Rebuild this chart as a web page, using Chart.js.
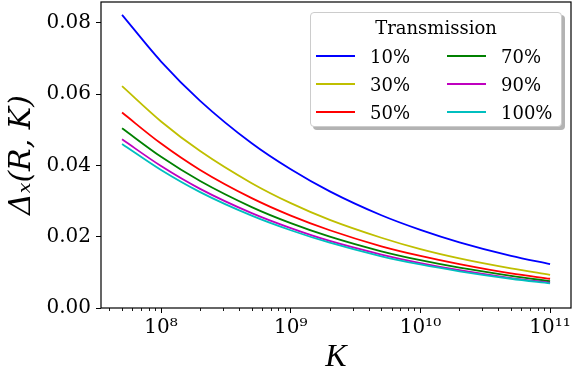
<!DOCTYPE html>
<html>
<head>
<meta charset="utf-8">
<script src="https://cdn.jsdelivr.net/npm/chart.js@4.4.0/dist/chart.umd.min.js"></script>
<style>
    body { margin: 0; background: #fff; }
    #wrap { position: relative; width: 576px; height: 381px; }
    #legend {
        position: absolute; left: 310px; top: 12px; width: 252px; height: 115px;
        box-sizing: border-box; border: 1px solid #cccccc; border-radius: 4px;
        background: #fff; box-shadow: 3px 3px 0 #b3b3b3;
        font-family: "DejaVu Serif"; font-size: 18px; color: #000;
    }
    #legend .title { height: 28px; line-height: 28px; margin-top: 1px; text-align: center; }
    #legend .items {
        display: grid; grid-template-columns: 131px 115px; grid-template-rows: 28px 28px 28px;
        grid-auto-flow: column; padding-left: 5px;
    }
    #legend .item { display: flex; align-items: center; }
    #legend .swatch { width: 39px; height: 2px; margin-right: 15px; }
</style>
</head>
<body>
<div id="wrap">
    <canvas id="myChart"></canvas>
    <div id="legend"></div>
</div>
<script>
    // K values (x) and Delta_x(R, K), one list per transmission
    var kValues = [5e7, 1e8, 2e8, 5e8, 1e9, 2e9, 5e9, 1e10, 2e10, 5e10, 1e11]
    var t10  = [0.0822, 0.0691, 0.0581, 0.0462, 0.0389, 0.0327, 0.0260, 0.0219, 0.0184, 0.0146, 0.0123]
    var t30  = [0.0622, 0.0523, 0.0440, 0.0350, 0.0294, 0.0247, 0.0197, 0.0165, 0.0139, 0.0111, 0.0093]
    var t50  = [0.0548, 0.0461, 0.0387, 0.0308, 0.0259, 0.0218, 0.0173, 0.0146, 0.0123, 0.0097, 0.0082]
    var t70  = [0.0504, 0.0424, 0.0356, 0.0283, 0.0238, 0.0200, 0.0159, 0.0134, 0.0113, 0.0090, 0.0075]
    var t90  = [0.0473, 0.0398, 0.0334, 0.0266, 0.0224, 0.0188, 0.0150, 0.0126, 0.0106, 0.0084, 0.0071]
    var t100 = [0.0460, 0.0387, 0.0325, 0.0259, 0.0218, 0.0183, 0.0145, 0.0122, 0.0103, 0.0082, 0.0069]

    var seriesNames = ["10%", "30%", "50%", "70%", "90%", "100%"]
    var seriesValues = [t10, t30, t50, t70, t90, t100]
    var colors = ["#0000ff", "#bfbf00", "#ff0000", "#008000", "#bf00bf", "#00bfbf"]

    var yTicks = [0, 0.02, 0.04, 0.06, 0.08]
    var xMajor = [1e8, 1e9, 1e10, 1e11]
    var xMajorLabels = ["10\u2078", "10\u2079", "10\u00b9\u2070", "10\u00b9\u00b9"]

    var xMin = 3.44e7, xMax = 1.45e11
    var yMax = 0.0858

    var xMinor = []
    for (var e = 7; e <= 11; e++) {
        for (var m = 2; m <= 9; m++) {
            var v = m * Math.pow(10, e)
            if (v > xMin && v < xMax) xMinor.push(v)
        }
    }

    var datasets = seriesNames.map(function (name, i) {
        return {
            label: name,
            data: kValues.map(function (k, j) { return { x: k, y: seriesValues[i][j] } }),
            borderColor: colors[i],
            backgroundColor: colors[i],
            borderWidth: 1.8,
            pointRadius: 0,
            cubicInterpolationMode: "monotone",
            fill: false,
            order: seriesNames.length - i
        }
    })

    // frame on all four sides plus the small log ticks
    var framePlugin = {
        id: "frame",
        afterDraw: function (chart) {
            var ctx = chart.ctx
            var a = chart.chartArea
            var xs = chart.scales.x
            ctx.save()
            ctx.strokeStyle = "#000"
            ctx.lineWidth = 1.2
            ctx.strokeRect(a.left, a.top, a.right - a.left, a.bottom - a.top)
            ctx.lineWidth = 0.9
            ctx.beginPath()
            xMinor.forEach(function (v) {
                var px = Math.round(xs.getPixelForValue(v)) + 0.5
                ctx.moveTo(px, a.bottom)
                ctx.lineTo(px, a.bottom + 3)
            })
            ctx.stroke()
            ctx.restore()
        }
    }

    new Chart(document.getElementById("myChart").getContext("2d"), {
        type: "line",
        data: { datasets: datasets },
        options: {
            responsive: true,
            maintainAspectRatio: false,
            animation: false,
            layout: { padding: { top: 2, right: 5, left: 0, bottom: 0 } },
            plugins: { legend: { display: false }, tooltip: { enabled: false } },
            scales: {
                x: {
                    type: "logarithmic",
                    min: xMin,
                    max: xMax,
                    afterBuildTicks: function (scale) {
                        scale.ticks = xMajor.map(function (v) { return { value: v, major: true } })
                    },
                    afterFit: function (scale) {
                        scale.height = 73
                        scale.paddingLeft = 0
                        scale.paddingRight = 0
                    },
                    border: { display: false },
                    grid: { drawOnChartArea: false, tickLength: 5, tickColor: "#000", tickWidth: 1 },
                    ticks: {
                        color: "#000",
                        padding: 3,
                        maxRotation: 0,
                        autoSkip: false,
                        font: { family: "DejaVu Serif", size: 20 },
                        callback: function (value) {
                            var idx = xMajor.indexOf(value)
                            return idx >= 0 ? xMajorLabels[idx] : ""
                        }
                    },
                    title: {
                        display: true,
                        text: "K",
                        color: "#000",
                        padding: { top: 0, bottom: 4 },
                        font: { family: "Liberation Serif", style: "italic", size: 32, lineHeight: 1.2 }
                    }
                },
                y: {
                    min: 0,
                    max: yMax,
                    afterBuildTicks: function (scale) {
                        scale.ticks = yTicks.map(function (v) { return { value: v } })
                    },
                    afterFit: function (scale) {
                        scale.width = 101
                        scale.paddingTop = 0
                        scale.paddingBottom = 0
                    },
                    border: { display: false },
                    grid: { drawOnChartArea: false, tickLength: 5, tickColor: "#000", tickWidth: 1 },
                    ticks: {
                        color: "#000",
                        padding: 5,
                        font: { family: "DejaVu Serif", size: 20 },
                        callback: function (value) { return value.toFixed(2) }
                    },
                    title: {
                        display: true,
                        text: "\u0394\u2093(R, K)",
                        color: "#000",
                        padding: { top: 4, bottom: 0 },
                        font: { family: "DejaVu Serif", style: "italic", size: 30, lineHeight: 1.2 }
                    }
                }
            }
        },
        plugins: [framePlugin]
    })

    // legend box: title on top, entries filled column by column
    var legend = document.getElementById("legend")
    var html = '<div class="title">Transmission</div><div class="items">'
    seriesNames.forEach(function (name, i) {
        html += '<div class="item"><span class="swatch" style="background:' + colors[i] + '"></span>' + name + '</div>'
    })
    html += "</div>"
    legend.innerHTML = html
</script>
</body>
</html>
